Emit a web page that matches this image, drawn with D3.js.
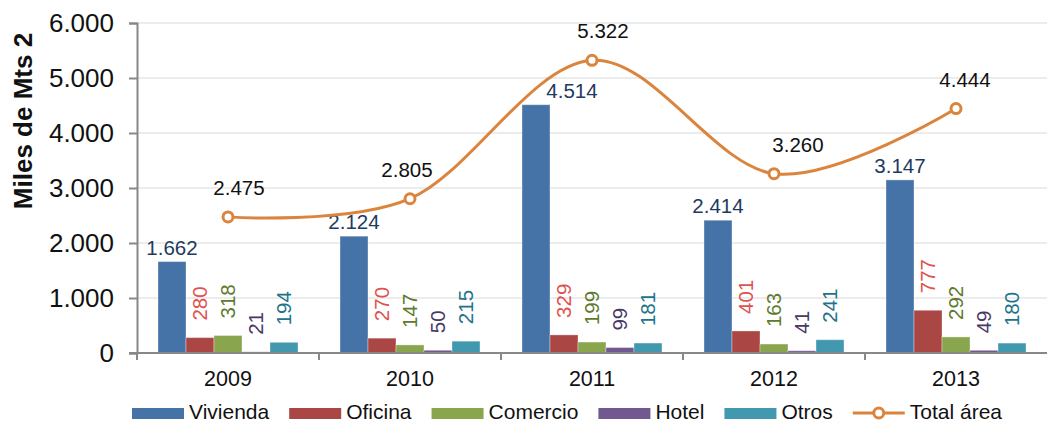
<!DOCTYPE html>
<html lang="es">
<head>
  <meta charset="UTF-8">
  <title>Miles de Mts 2</title>
  <style>
    body {
      margin: 0;
      background: #ffffff;
      font-family: "Liberation Sans", Arial, sans-serif;
    }
    svg text {
      font-family: "Liberation Sans", Arial, sans-serif;
    }
  </style>
  <script src="https://d3js.org/d3.v7.min.js"></script>
</head>
<body>
  <div id="chart"></div>

  <script>
    // Data
    const years = ['2009', '2010', '2011', '2012', '2013'];
    const seriesNames = ['Vivienda', 'Oficina', 'Comercio', 'Hotel', 'Otros'];
    const vivienda = [1662, 2124, 4514, 2414, 3147];
    const oficina = [280, 270, 329, 401, 777];
    const comercio = [318, 147, 199, 163, 292];
    const hotel = [21, 50, 99, 41, 49];
    const otros = [194, 215, 181, 241, 180];
    const totalArea = [2475, 2805, 5322, 3260, 4444];
    const yTicks = [0, 1000, 2000, 3000, 4000, 5000, 6000];

    // Styling
    const barColors = ['#4572A7', '#AA4643', '#89A54E', '#71588F', '#4198AF'];
    const labelColors = ['#1F3A5F', '#E0524F', '#5E7A2E', '#4A3866', '#21738A'];
    const lineColor = '#DB843D';
    // manual label nudges (px) as in the original
    const vivLabelDx = [0, 0, 36, 0, 0];
    const totalLabelDx = [11, -3, 11, 24, 9];

    const width = 1047;
    const height = 423;
    const margin = { top: 23, right: 0, bottom: 70, left: 137 };

    const svg = d3.select('#chart')
      .append('svg')
      .attr('width', width)
      .attr('height', height);

    const x = d3.scaleBand()
      .domain(years)
      .range([margin.left, width - margin.right])
      .paddingInner(0)
      .paddingOuter(0);

    const xSub = d3.scaleBand()
      .domain(seriesNames)
      .range([0, x.bandwidth()])
      .paddingOuter(0.75)
      .paddingInner(0);

    const y = d3.scaleLinear()
      .domain([0, 6000])
      .range([height - margin.bottom, margin.top]);

    const locale = d3.formatLocale({ decimal: ',', thousands: '.', grouping: [3], currency: ['', ''] });
    const fmt = locale.format(',d');

    // gridlines
    svg.append('g')
      .selectAll('line')
      .data(yTicks.filter(d => d > 0))
      .enter()
      .append('line')
      .attr('x1', margin.left)
      .attr('x2', width)
      .attr('y1', d => y(d))
      .attr('y2', d => y(d))
      .attr('stroke', '#ECECEC')
      .attr('stroke-width', 2);

    // y axis
    const yAxis = svg.append('g')
      .attr('transform', `translate(${margin.left},0)`)
      .call(d3.axisLeft(y).tickValues(yTicks).tickFormat(fmt).tickSize(8).tickPadding(15));
    yAxis.select('.domain').attr('stroke', '#888').attr('stroke-width', 2);
    yAxis.selectAll('.tick line').attr('stroke', '#888').attr('stroke-width', 2);
    yAxis.selectAll('text')
      .attr('fill', '#111')
      .style('font-size', '26px');

    // y axis title
    svg.append('text')
      .attr('transform', 'translate(32,121) rotate(-90)')
      .attr('text-anchor', 'middle')
      .style('font-size', '26px')
      .style('font-weight', 'bold')
      .attr('fill', '#111')
      .text('Miles de Mts 2');

    // bars
    const series = [vivienda, oficina, comercio, hotel, otros];
    series.forEach((vals, si) => {
      const name = seriesNames[si];
      svg.append('g')
        .selectAll('rect')
        .data(vals)
        .enter()
        .append('rect')
        .attr('x', (d, i) => x(years[i]) + xSub(name))
        .attr('y', d => y(d))
        .attr('width', xSub.bandwidth())
        .attr('height', d => y(0) - y(d))
        .attr('fill', barColors[si])
        .attr('stroke', 'rgba(255,255,255,0.35)')
        .attr('stroke-width', 1);

      const labels = svg.append('g')
        .selectAll('text')
        .data(vals)
        .enter()
        .append('text')
        .attr('fill', labelColors[si])
        .style('font-size', '20.5px')
        .text(d => fmt(d));

      if (si === 0) {
        labels
          .attr('x', (d, i) => x(years[i]) + xSub(name) + xSub.bandwidth() / 2 + vivLabelDx[i])
          .attr('y', d => y(d) - 7)
          .attr('text-anchor', 'middle');
      } else {
        labels
          .attr('transform', (d, i) => {
            const cx = x(years[i]) + xSub(name) + xSub.bandwidth() / 2;
            return `translate(${cx},${y(d) - 17}) rotate(-90)`;
          })
          .attr('text-anchor', 'start')
          .attr('dy', '0.35em');
      }
    });

    // x axis
    const xAxisY = y(0);
    svg.append('line')
      .attr('x1', margin.left - 8)
      .attr('x2', width)
      .attr('y1', xAxisY)
      .attr('y2', xAxisY)
      .attr('stroke', '#888')
      .attr('stroke-width', 2);

    svg.append('g')
      .selectAll('line')
      .data(years)
      .enter()
      .append('line')
      .attr('x1', d => x(d))
      .attr('x2', d => x(d))
      .attr('y1', xAxisY)
      .attr('y2', xAxisY + 7)
      .attr('stroke', '#888')
      .attr('stroke-width', 2);

    svg.append('g')
      .selectAll('text')
      .data(years)
      .enter()
      .append('text')
      .attr('x', d => x(d) + x.bandwidth() / 2)
      .attr('y', 386)
      .attr('text-anchor', 'middle')
      .attr('fill', '#111')
      .style('font-size', '21.5px')
      .text(d => d);

    // total line
    const pts = totalArea.map((d, i) => [x(years[i]) + x.bandwidth() / 2, y(d)]);
    svg.append('path')
      .datum(pts)
      .attr('fill', 'none')
      .attr('stroke', lineColor)
      .attr('stroke-width', 3)
      .attr('d', d3.line().curve(d3.curveCardinal.tension(0)));

    svg.append('g')
      .selectAll('circle')
      .data(pts)
      .enter()
      .append('circle')
      .attr('cx', d => d[0])
      .attr('cy', d => d[1])
      .attr('r', 5)
      .attr('fill', '#fff')
      .attr('stroke', lineColor)
      .attr('stroke-width', 3);

    svg.append('g')
      .selectAll('text')
      .data(totalArea)
      .enter()
      .append('text')
      .attr('x', (d, i) => pts[i][0] + totalLabelDx[i])
      .attr('y', d => y(d) - 22)
      .attr('text-anchor', 'middle')
      .attr('fill', '#111')
      .style('font-size', '20.5px')
      .text(d => fmt(d));

    // legend
    const legendItems = seriesNames.concat(['Total área']);
    const legend = svg.append('g').attr('id', 'legend');
    let lx = 132;
    const ly = 413;
    legendItems.forEach((name, i) => {
      if (i < seriesNames.length) {
        legend.append('rect')
          .attr('x', lx)
          .attr('y', ly - 5)
          .attr('width', 52)
          .attr('height', 11)
          .attr('fill', barColors[i]);
      } else {
        legend.append('line')
          .attr('x1', lx)
          .attr('x2', lx + 52)
          .attr('y1', ly)
          .attr('y2', ly)
          .attr('stroke', lineColor)
          .attr('stroke-width', 3);
        legend.append('circle')
          .attr('cx', lx + 26)
          .attr('cy', ly)
          .attr('r', 5)
          .attr('fill', '#fff')
          .attr('stroke', lineColor)
          .attr('stroke-width', 3);
      }
      const t = legend.append('text')
        .attr('x', lx + 57)
        .attr('y', 419)
        .attr('fill', '#111')
        .style('font-size', '21px')
        .text(name);
      lx += 57 + t.node().getComputedTextLength() + 20;
    });
  </script>
</body>
</html>
